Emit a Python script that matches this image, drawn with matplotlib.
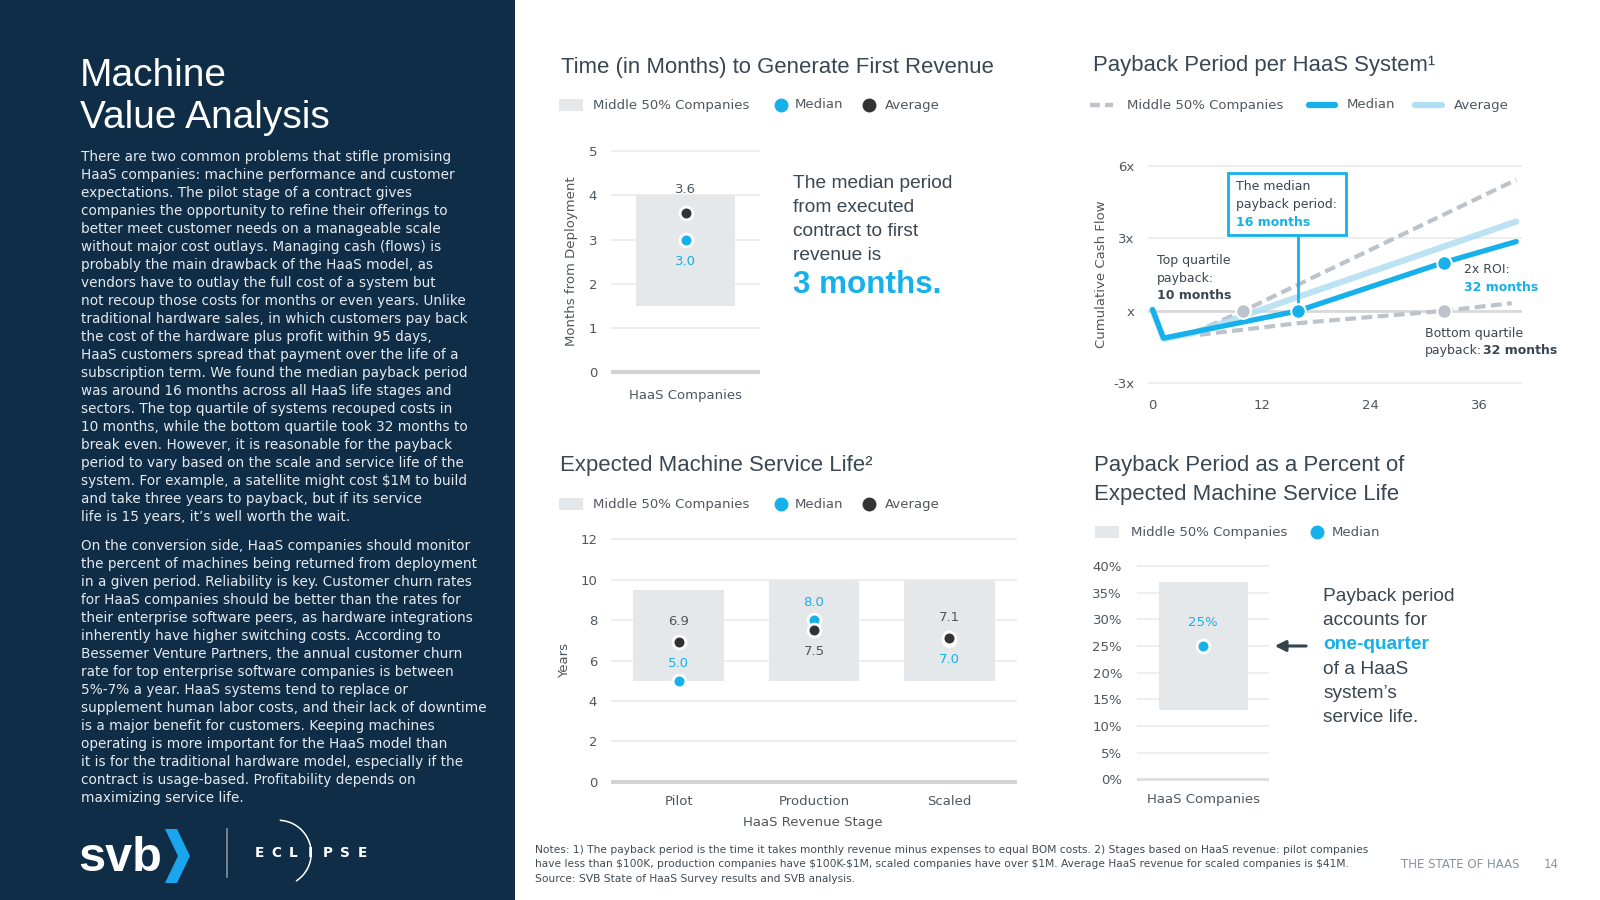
import numpy as np
import matplotlib
matplotlib.use('Agg')
import matplotlib.pyplot as plt
from matplotlib.patches import Rectangle, Polygon
from matplotlib.lines import Line2D

# ---- data ----
# time to first revenue (months)
first_cat = ['HaaS Companies']
first_q1 = [1.5]
first_q3 = [4.0]
first_median = [3.0]
first_avg = [3.6]

# payback period curves (months vs multiple of cost)
med_months = [0, 1.2, 16, 32, 40]
med_flow = [0.05, -1.13, 0.0, 2.0, 2.87]
avg_months = [0, 1.2, 4.5, 40]
avg_flow = [0.05, -1.15, -0.92, 3.7]
top_months = [4.4, 10, 40]
top_flow = [-0.92, 0.0, 5.43]
bot_months = [5.2, 16, 32, 39.5]
bot_flow = [-0.99, -0.51, 0.0, 0.32]
quartile_payback = [10, 32]
median_payback = 16
roi2x_month = 32
roi2x_flow = 2.0
pay_ticks = [-3, 0, 3, 6]
pay_ticklabels = ['-3x', 'x', '3x', '6x']
pay_xticks = [0, 12, 24, 36]

# expected service life (years)
stages = ['Pilot', 'Production', 'Scaled']
life_q1 = [5.0, 5.0, 5.0]
life_q3 = [9.5, 10.0, 10.0]
life_median = [5.0, 8.0, 7.0]
life_avg = [6.9, 7.5, 7.1]

# payback as % of service life
pct_cat = ['HaaS Companies']
pct_q1 = [13]
pct_q3 = [37]
pct_median = [25]

# ---- colours / fonts ----
NAVY = '#0f2d46'
BLUE = '#16b0ea'
LIGHTBLUE = '#b0def3'
DARK = '#333333'
BOX = '#e5e8eb'
GRID = '#eeeeee'
BASE = '#d3d3d3'
TXT = '#3a4651'
TICK = '#4f575e'
QGREY = '#bcc3ca'
TITLE_FONT = 'Liberation Sans'
BODY_FONT = 'DejaVu Sans'

W, H = 1600, 900
plt.rcParams['font.family'] = BODY_FONT

fig = plt.figure(figsize=(16, 9), dpi=100)
fig.patch.set_facecolor('white')


def X(x):
    return x / W


def Y(y):
    return 1 - y / H


def ftext(x, y, s, **kw):
    kw.setdefault('parse_math', False)
    return fig.text(X(x), Y(y), s, **kw)


def axes_at(x0, x1, xlim, ypx_lo, ypx_hi, v_lo, v_hi, pad):
    ppu = (ypx_lo - ypx_hi) / (v_hi - v_lo)
    bottom = ypx_lo + pad * ppu
    top = ypx_hi - pad * ppu
    ax = fig.add_axes([X(x0), Y(bottom), (x1 - x0) / W, (bottom - top) / H])
    ax.set_xlim(*xlim)
    ax.set_ylim(v_lo - pad, v_hi + pad)
    ax.set_facecolor('none')
    for s in ax.spines.values():
        s.set_visible(False)
    ax.tick_params(length=0, labelsize=9.5, labelcolor=TICK, pad=10)
    ax.grid(axis='y', color=GRID, lw=1.4)
    ax.set_axisbelow(True)
    return ax


def legend_box(x0, y, label, xt):
    fig.add_artist(Rectangle((X(x0), Y(y + 6)), 24 / W, 12 / H, transform=fig.transFigure,
                             color=BOX, lw=0))
    ftext(xt, y, label, fontsize=9.5, color=TICK, va='center')


def legend_dot(xc, y, color, label, xt):
    fig.add_artist(Line2D([X(xc)], [Y(y)], transform=fig.transFigure, marker='o',
                          markersize=9, color=color, lw=0))
    ftext(xt, y, label, fontsize=9.5, color=TICK, va='center')


def legend_line(x0, x1, y, label, xt, **kw):
    fig.add_artist(Line2D([X(x0), X(x1)], [Y(y), Y(y)], transform=fig.transFigure,
                          solid_capstyle='round', **kw))
    ftext(xt, y, label, fontsize=9.5, color=TICK, va='center')


# ---- left navy panel ----
fig.add_artist(Rectangle((0, 0), X(515), 1, transform=fig.transFigure, color=NAVY, lw=0))
ftext(80, 85.5, 'Machine', fontsize=28, color='white', family=TITLE_FONT, va='baseline')
ftext(80, 127.5, 'Value Analysis', fontsize=28, color='white', family=TITLE_FONT,
      va='baseline')

para1 = [
    'There are two common problems that stifle promising',
    'HaaS companies: machine performance and customer',
    'expectations. The pilot stage of a contract gives',
    'companies the opportunity to refine their offerings to',
    'better meet customer needs on a manageable scale',
    'without major cost outlays. Managing cash (flows) is',
    'probably the main drawback of the HaaS model, as',
    'vendors have to outlay the full cost of a system but',
    'not recoup those costs for months or even years. Unlike',
    'traditional hardware sales, in which customers pay back',
    'the cost of the hardware plus profit within 95 days,',
    'HaaS customers spread that payment over the life of a',
    'subscription term. We found the median payback period',
    'was around 16 months across all HaaS life stages and',
    'sectors. The top quartile of systems recouped costs in',
    '10 months, while the bottom quartile took 32 months to',
    'break even. However, it is reasonable for the payback',
    'period to vary based on the scale and service life of the',
    'system. For example, a satellite might cost $1M to build',
    'and take three years to payback, but if its service',
    'life is 15 years, it\u2019s well worth the wait.',
]
para2 = [
    'On the conversion side, HaaS companies should monitor',
    'the percent of machines being returned from deployment',
    'in a given period. Reliability is key. Customer churn rates',
    'for HaaS companies should be better than the rates for',
    'their enterprise software peers, as hardware integrations',
    'inherently have higher switching costs. According to',
    'Bessemer Venture Partners, the annual customer churn',
    'rate for top enterprise software companies is between',
    '5%-7% a year. HaaS systems tend to replace or',
    'supplement human labor costs, and their lack of downtime',
    'is a major benefit for customers. Keeping machines',
    'operating is more important for the HaaS model than',
    'it is for the traditional hardware model, especially if the',
    'contract is usage-based. Profitability depends on',
    'maximizing service life.',
]
for i, line in enumerate(para1):
    ftext(80.7, 157.3 + 18 * i, line, fontsize=9.85, color='#e4e9ee', va='center')
for i, line in enumerate(para2):
    ftext(80.7, 545.7 + 18 * i, line, fontsize=9.85, color='#e4e9ee', va='center')

# logos
ftext(78, 871, 'svb', fontsize=35, color='white', family=TITLE_FONT, weight='bold',
      va='baseline')
fig.add_artist(Polygon([(X(165), Y(829)), (X(177), Y(829)), (X(190), Y(856)),
                        (X(177), Y(883)), (X(165), Y(883)), (X(178), Y(856))],
                       closed=True, transform=fig.transFigure, color='#1aa6ee', lw=0))
fig.add_artist(Line2D([X(226.7), X(226.7)], [Y(829), Y(877)], transform=fig.transFigure,
                      color='#7d8b98', lw=1.3))
for i, ch in enumerate('ECLIPSE'):
    ftext(259 + 17.2 * i, 853.3, ch, fontsize=9.8, color='white', weight='bold',
          ha='center', va='center')
th = np.deg2rad(np.linspace(-56, 86, 60))
fig.add_artist(Line2D(X(278.2 + 33 * np.cos(th)), Y(853.3 - 33 * np.sin(th)),
                      transform=fig.transFigure, color='white', lw=1.1))

# ---- chart 1: time to first revenue ----
ftext(561, 73.5, 'Time (in Months) to Generate First Revenue', fontsize=15.9, color=TXT,
      family=TITLE_FONT, va='baseline')
legend_box(559, 105, 'Middle 50% Companies', 593)
legend_dot(780.6, 105, BLUE, 'Median', 795)
legend_dot(869.4, 105, DARK, 'Average', 885)

ax1 = axes_at(611, 760, (-0.5, 0.5), 372.3, 151, 0, 5, 0.06)
ax1.set_yticks(range(0, 6))
ax1.set_xticks(range(len(first_cat)))
ax1.set_xticklabels(first_cat)
ax1.axhline(0, color=BASE, lw=3, zorder=1)
xs = np.arange(len(first_cat))
ax1.bar(xs, np.array(first_q3) - np.array(first_q1), bottom=first_q1, width=0.66,
        color=BOX, zorder=2)
ax1.scatter(xs, first_avg, s=85, color=DARK, edgecolors='white', linewidths=2, zorder=4)
ax1.scatter(xs, first_median, s=85, color=BLUE, edgecolors='white', linewidths=2, zorder=4)
for x, v in zip(xs, first_avg):
    ax1.annotate(f'{v:.1f}', (x, v), xytext=(0, 17), textcoords='offset points',
                 ha='center', va='center', fontsize=9.5, color=TICK)
for x, v in zip(xs, first_median):
    ax1.annotate(f'{v:.1f}', (x, v), xytext=(0, -16), textcoords='offset points',
                 ha='center', va='center', fontsize=9.5, color=BLUE)
ax1.set_ylabel('Months from Deployment', fontsize=9.5, color=TICK, va='center')
ax1.yaxis.set_label_coords((571.7 - 611) / 149, 0.5)

for i, line in enumerate(['The median period', 'from executed', 'contract to first',
                          'revenue is']):
    ftext(793, 183.3 + 24.2 * i, line, fontsize=13.8, color=TXT, family=TITLE_FONT,
          va='center')
ftext(793, 285, '3 months.', fontsize=22.6, color=BLUE, family=TITLE_FONT, weight='bold',
      va='center')

# ---- chart 2: payback period ----
ftext(1093, 71.4, 'Payback Period per HaaS System\u00b9', fontsize=15.9, color=TXT,
      family=TITLE_FONT, va='baseline')
legend_line(1090, 1113, 105, 'Middle 50% Companies', 1127, color=QGREY, lw=3.2,
            dashes=(2.2, 1.2))
legend_line(1309, 1335, 105, 'Median', 1347, color=BLUE, lw=4.5)
legend_line(1415, 1442, 105, 'Average', 1454, color=LIGHTBLUE, lw=4.5)

ax2 = axes_at(1148, 1521.7, (-0.5, 40.6), 383.3, 166, -3, 6, 0.08)
ax2.set_yticks(pay_ticks)
ax2.set_yticklabels(pay_ticklabels)
ax2.set_xticks(pay_xticks)
ax2.axhline(0, color='#d9d9d9', lw=2, zorder=1)
ax2.plot(top_months, top_flow, color=QGREY, lw=3, dashes=(2.6, 1.3), zorder=2)
ax2.plot(bot_months, bot_flow, color=QGREY, lw=3, dashes=(2.6, 1.3), zorder=2)
ax2.plot(avg_months, avg_flow, color=LIGHTBLUE, lw=4.5, alpha=0.85, zorder=3,
         solid_capstyle='round', solid_joinstyle='round')
ax2.plot(med_months, med_flow, color=BLUE, lw=3.8, zorder=4,
         solid_capstyle='round', solid_joinstyle='round')
ax2.scatter(quartile_payback, [0] * len(quartile_payback), s=110, color=QGREY,
            edgecolors='white', linewidths=1.5, zorder=5)
ax2.scatter([median_payback, roi2x_month], [0, roi2x_flow], s=110, color=BLUE,
            edgecolors='white', linewidths=1.5, zorder=6)
ax2.set_ylabel('Cumulative Cash Flow', fontsize=9.5, color=TICK, va='center')
ax2.yaxis.set_label_coords((1101.7 - 1148) / 373.7, 0.5)

# callout box
ax2.add_patch(Rectangle((8.3, 3.15), 13.0, 2.58, facecolor='white', edgecolor=BLUE,
                        lw=2, zorder=7))
ax2.plot([median_payback, median_payback], [3.15, 0.3], color=BLUE, lw=2, zorder=5)
ax2.text(9.2, 5.15, 'The median', fontsize=9, color=TXT, va='center', zorder=8)
ax2.text(9.2, 4.4, 'payback period:', fontsize=9, color=TXT, va='center', zorder=8)
ax2.text(9.2, 3.66, f'{median_payback} months', fontsize=9, color=BLUE, weight='bold',
         va='center', zorder=8)
ax2.text(0.5, 2.08, 'Top quartile', fontsize=9, color=TXT, va='center')
ax2.text(0.5, 1.35, 'payback:', fontsize=9, color=TXT, va='center')
ax2.text(0.5, 0.62, f'{quartile_payback[0]} months', fontsize=9, color=TXT,
         weight='bold', va='center')
ax2.text(34.2, 1.73, '2x ROI:', fontsize=9, color=TXT, va='center')
ax2.text(34.2, 0.98, f'{roi2x_month} months', fontsize=9, color=BLUE, weight='bold',
         va='center', clip_on=False)
ax2.text(30, -0.95, 'Bottom quartile', fontsize=9, color=TXT, va='center', clip_on=False)
ax2.text(30, -1.66, 'payback:', fontsize=9, color=TXT, va='center', clip_on=False)
ax2.text(36.3, -1.66, f'{quartile_payback[1]} months', fontsize=9, color=TXT,
         weight='bold', va='center', clip_on=False)

# ---- chart 3: expected service life ----
ftext(560, 471.4, 'Expected Machine Service Life\u00b2', fontsize=15.9, color=TXT,
      family=TITLE_FONT, va='baseline')
legend_box(559, 504, 'Middle 50% Companies', 593)
legend_dot(780.6, 504, BLUE, 'Median', 795)
legend_dot(869.4, 504, DARK, 'Average', 885)

ax3 = axes_at(611, 1017, (-0.5, 2.5), 781.7, 539.3, 0, 12, 0.12)
ax3.set_yticks(range(0, 13, 2))
ax3.set_xticks(range(len(stages)))
ax3.set_xticklabels(stages)
ax3.tick_params(axis='x', pad=8)
ax3.axhline(0, color=BASE, lw=3, zorder=1)
xs = np.arange(len(stages))
ax3.bar(xs, np.array(life_q3) - np.array(life_q1), bottom=life_q1, width=0.67,
        color=BOX, zorder=2)
ax3.scatter(xs, life_median, s=85, color=BLUE, edgecolors='white', linewidths=2, zorder=4)
ax3.scatter(xs, life_avg, s=85, color=DARK, edgecolors='white', linewidths=2, zorder=5)
avg_off = [15, -15.5, 15]
med_off = [12.5, 13, -14]
for x, v, o in zip(xs, life_avg, avg_off):
    ax3.annotate(f'{v:.1f}', (x, v), xytext=(0, o), textcoords='offset points',
                 ha='center', va='center', fontsize=9.5, color=TICK)
for x, v, o in zip(xs, life_median, med_off):
    ax3.annotate(f'{v:.1f}', (x, v), xytext=(0, o), textcoords='offset points',
                 ha='center', va='center', fontsize=9.5, color=BLUE)
ax3.set_ylabel('Years', fontsize=9.5, color=TICK, va='center')
ax3.yaxis.set_label_coords((565 - 611) / 406, 0.5)
ftext(813, 822.5, 'HaaS Revenue Stage', fontsize=9.5, color=TICK, ha='center', va='center')

# ---- chart 4: payback as % of service life ----
ftext(1094, 471.4, 'Payback Period as a Percent of', fontsize=15.9, color=TXT,
      family=TITLE_FONT, va='baseline')
ftext(1094, 500, 'Expected Machine Service Life', fontsize=15.9, color=TXT,
      family=TITLE_FONT, va='baseline')
legend_box(1095, 532.3, 'Middle 50% Companies', 1131)
legend_dot(1316.7, 532.3, BLUE, 'Median', 1332)

ax4 = axes_at(1137.3, 1269.3, (-0.5, 0.5), 779.3, 566, 0, 40, 0.4)
ax4.set_yticks(range(0, 41, 5))
ax4.set_yticklabels([f'{v}%' for v in range(0, 41, 5)])
ax4.tick_params(axis='y', pad=11)
ax4.tick_params(axis='x', pad=8)
ax4.set_xticks(range(len(pct_cat)))
ax4.set_xticklabels(pct_cat)
ax4.axhline(0, color='#dddddd', lw=2, zorder=1)
xs = np.arange(len(pct_cat))
ax4.bar(xs, np.array(pct_q3) - np.array(pct_q1), bottom=pct_q1, width=0.67,
        color=BOX, zorder=2)
ax4.scatter(xs, pct_median, s=85, color=BLUE, edgecolors='white', linewidths=2, zorder=4)
for x, v in zip(xs, pct_median):
    ax4.annotate(f'{v}%', (x, v), xytext=(0, 17), textcoords='offset points',
                 ha='center', va='center', fontsize=9.5, color=BLUE)
ax4.annotate('', xy=(0.52, pct_median[0]), xytext=(0.8, pct_median[0]),
             arrowprops=dict(arrowstyle='-|>', color='#34444f', lw=2.2,
                             mutation_scale=16), annotation_clip=False)

side = [('Payback period', TXT, 'normal'), ('accounts for', TXT, 'normal'),
        ('one-quarter', BLUE, 'bold'), ('of a HaaS', TXT, 'normal'),
        ('system\u2019s', TXT, 'normal'), ('service life.', TXT, 'normal')]
for i, (line, c, w) in enumerate(side):
    ftext(1323.3, 596.7 + 24.1 * i, line, fontsize=13.8, color=c, weight=w,
          family=TITLE_FONT, va='center')

# ---- footer ----
notes = [
    'Notes: 1) The payback period is the time it takes monthly revenue minus expenses to '
    'equal BOM costs. 2) Stages based on HaaS revenue: pilot companies',
    'have less than $100K, production companies have $100K-$1M, scaled companies have over '
    '$1M. Average HaaS revenue for scaled companies is $41M.',
    'Source: SVB State of HaaS Survey results and SVB analysis.',
]
for i, line in enumerate(notes):
    ftext(535, 850 + 14.3 * i, line, fontsize=7.7, color='#3f4a54', va='center')
ftext(1401, 865, 'THE STATE OF HAAS', fontsize=8.5, color='#8893a0', va='center')
ftext(1551, 865, '14', fontsize=8.5, color='#8893a0', ha='center', va='center')

fig.savefig('out.png', dpi=100)
